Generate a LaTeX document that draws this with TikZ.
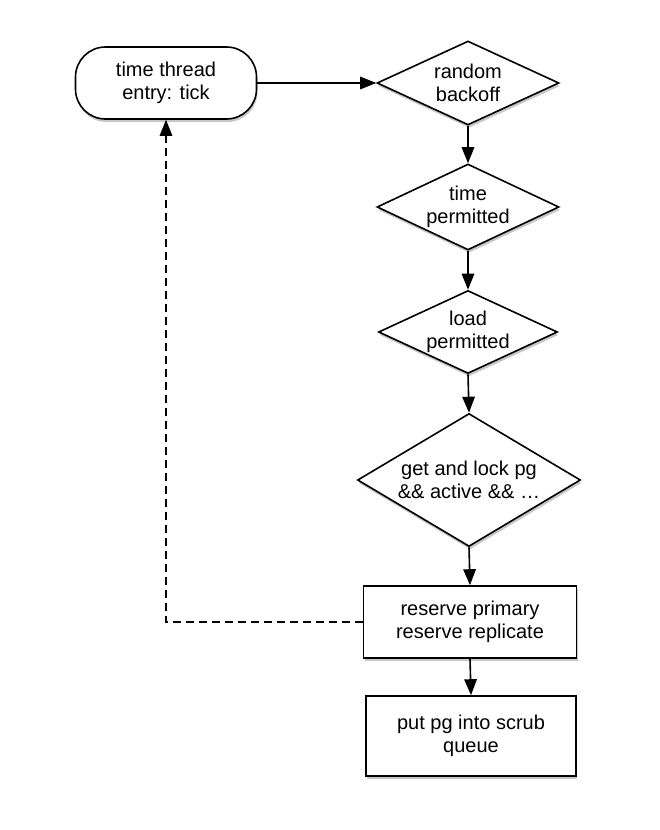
\documentclass[tikz,border=0pt]{standalone}
\usepackage{fontspec}
\setmainfont{Liberation Sans}
\usetikzlibrary{shapes.geometric,arrows.meta,shadows}
\begin{document}
\begin{tikzpicture}[x=1pt,y=-1pt,
  base/.style={draw=black, line width=1.6pt, fill=white, text=black,
    font=\fontsize{20}{23.5}\selectfont, align=center, inner sep=0pt,
    drop shadow={shadow xshift=1pt, shadow yshift=-3pt, opacity=0.22, fill=black}},
  startbox/.style={base, rectangle, rounded corners=30pt, minimum width=181pt, minimum height=72pt},
  decision/.style={base, diamond, aspect=2.1},
  process/.style={base, rectangle},
  arr/.style={-{Triangle[length=16pt,width=12.5pt]}, line width=1.6pt},
  dasharr/.style={arr, dash pattern=on 8pt off 5pt}
]
\useasboundingbox (0,0) rectangle (660,830);

\node[startbox] (start) at (166,83) {time thread\\entry: tick};
\node[decision, minimum width=182pt, minimum height=84pt] (d1) at (468,83) {random\\backoff};
\node[decision, minimum width=182pt, minimum height=86pt] (d2) at (468,207) {time\\permitted};
\node[decision, minimum width=179pt, minimum height=83pt] (d3) at (468,332) {load\\permitted};
\node[decision, aspect=1.68, minimum width=223pt, minimum height=133pt] (d4) at (469,480) {get and lock pg\\\&\& active \&\& …};
\node[process, minimum width=213pt, minimum height=72pt] (b1) at (470,622) {reserve primary\\reserve replicate};
\node[process, minimum width=210pt, minimum height=80pt] (b2) at (471,736) {put pg into scrub\\queue};

\draw[arr] (start.east) -- (d1.west);
\draw[arr] (d1.south) -- (d2.north);
\draw[arr] (d2.south) -- (d3.north);
\draw[arr] (d3.south) -- (d4.north);
\draw[arr] (d4.south) -- (b1.north);
\draw[arr] (b1.south) -- (b2.north);
\draw[dasharr] (b1.west) -| (start.south);
\end{tikzpicture}
\end{document}
